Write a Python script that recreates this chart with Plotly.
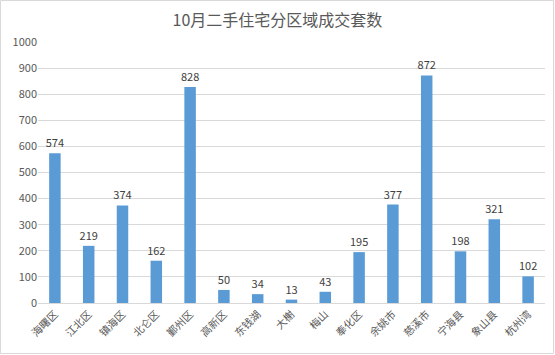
import plotly.graph_objects as go

categories = ["海曙区", "江北区", "镇海区", "北仑区", "鄞州区", "高新区", "东钱湖", "大榭",
              "梅山", "奉化区", "余姚市", "慈溪市", "宁海县", "象山县", "杭州湾"]
values = [574, 219, 374, 162, 828, 50, 34, 13, 43, 195, 377, 872, 198, 321, 102]
y_ticks = list(range(0, 1001, 100))

W, H = 555, 355
ml, mr, mt, mb = 38, 10, 42, 52

fig = go.Figure(go.Bar(
    x=categories, y=values,
    marker=dict(color="#5B9BD5", line=dict(width=0)),
    text=[str(v) for v in values], textposition="outside",
    constraintext="none",
    textfont=dict(size=11, color="#404040", family="Noto Sans CJK SC"),
    cliponaxis=False,
))

pw = W - ml - mr
ph = H - mt - mb
fig.add_shape(type="rect", xref="paper", yref="paper",
              x0=-(ml - 0.5) / pw, x1=1 + (mr - 1.5) / pw,
              y0=-(mb - 1.5) / ph, y1=1 + (mt - 0.5) / ph,
              line=dict(color="#D9D9D9", width=1), fillcolor="rgba(0,0,0,0)")

fig.update_layout(
    width=W, height=H,
    margin=dict(l=ml, r=mr, t=mt, b=mb),
    paper_bgcolor="white", plot_bgcolor="white",
    title=dict(text="10月二手住宅分区域成交套数", x=0.5, xanchor="center", y=1 - 20 / H, yanchor="middle",
               font=dict(size=16, color="#595959", family="Noto Sans CJK SC")),
    bargap=0.66,
    showlegend=False,
    font=dict(family="Noto Sans CJK SC", color="#595959", size=11),
    xaxis=dict(tickangle=-45, showline=True, linecolor="#D9D9D9", linewidth=1,
               tickfont=dict(size=10.5, color="#595959"), ticks="", showgrid=False),
    yaxis=dict(range=[0, 1000], tickvals=y_ticks, showgrid=True, gridcolor="#D9D9D9", gridwidth=1,
               zeroline=False, tickfont=dict(size=11, color="#595959"), ticks="", showline=False),
)

fig.write_html("out.html")
